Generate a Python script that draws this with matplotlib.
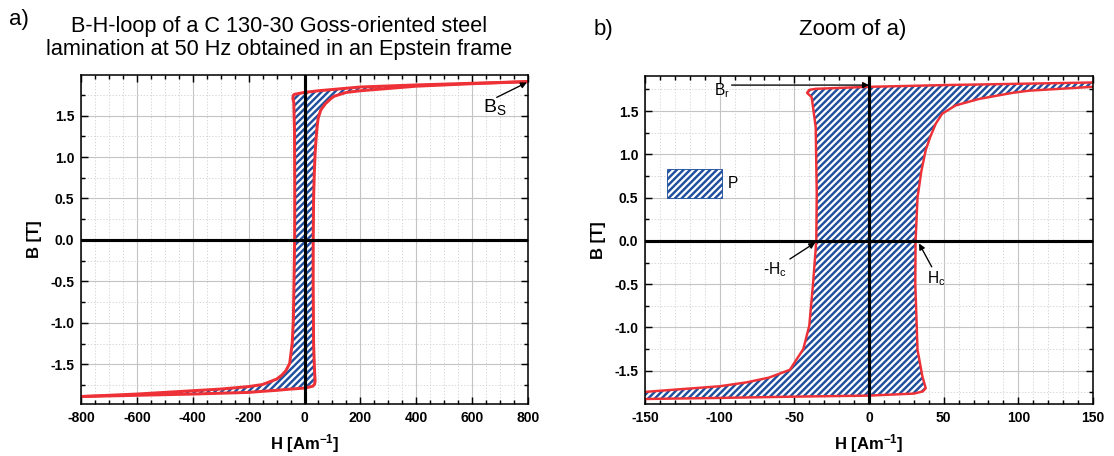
import matplotlib
matplotlib.use("Agg")
import matplotlib.pyplot as plt
from matplotlib.patches import Rectangle
from matplotlib.ticker import MultipleLocator, FormatStrFormatter

# ---------------- data ----------------
# descending branch (H from +800 down to -800)
H_desc = [800, 600, 400, 200, 150, 100, 50, 0, -35.7, -40, -41.5, -38.4, -35.7, -35, -35.3,
          -37.5, -40, -44, -53, -67, -82, -100, -150, -200, -300, -400, -600, -800]
B_desc = [1.91, 1.89, 1.87, 1.845, 1.83, 1.815, 1.80, 1.78, 1.757, 1.745, 1.71, 1.66, 1.315, 0.55, 0.0,
          -0.5, -0.98, -1.25, -1.49, -1.58, -1.635, -1.68, -1.745, -1.77, -1.80, -1.82, -1.86, -1.89]
# ascending branch (H from -800 up to +800)
H_asc = [-800, -600, -400, -200, -150, -100, -50, 0, 30, 36, 38, 35.8, 32.5, 31, 31.2,
         32.5, 35, 38, 41, 44.7, 49, 58, 73.7, 96, 107, 150, 200, 400, 600, 800]
B_asc = [-1.89, -1.875, -1.86, -1.84, -1.827, -1.815, -1.80, -1.788, -1.765, -1.74, -1.703, -1.57, -1.26, -0.49, 0.0,
         0.5, 0.8, 1.05, 1.2, 1.354, 1.47, 1.565, 1.64, 1.71, 1.735, 1.78, 1.80, 1.855, 1.885, 1.91]

left_xticks = [-800, -600, -400, -200, 0, 200, 400, 600, 800]
right_xticks = [-150, -100, -50, 0, 50, 100, 150]
yticks = [-1.5, -1.0, -0.5, 0.0, 0.5, 1.0, 1.5]

title_a = "B-H-loop of a C 130-30 Goss-oriented steel\nlamination at 50 Hz obtained in an Epstein frame"
title_b = "Zoom of a)"
xlabel = r"H [Am$^{\mathregular{-1}}$]"
ylabel = "B [T]"

# ---------------- style ----------------
RED = "#ee3136"
BLUE = "#1f4f9e"
plt.rcParams["font.family"] = ["Liberation Sans", "DejaVu Sans"]
plt.rcParams["mathtext.fontset"] = "custom"
plt.rcParams["mathtext.rm"] = "Liberation Sans"
plt.rcParams["mathtext.bf"] = "Liberation Sans:bold"
plt.rcParams["mathtext.default"] = "regular"
plt.rcParams["axes.unicode_minus"] = False
plt.rcParams["hatch.linewidth"] = 2.2

DPI = 80
fig = plt.figure(figsize=(1114 / DPI, 456 / DPI), dpi=DPI)
axL = fig.add_axes([81 / 1114, 52 / 456, 447 / 1114, 329 / 456])
axR = fig.add_axes([645 / 1114, 52 / 456, 448 / 1114, 328 / 456])

loopH = H_desc + H_asc
loopB = B_desc + B_asc


def style(ax, xticks, xminor, xlim, ylim, lw_loop):
    ax.fill(loopH, loopB, facecolor="white", edgecolor=BLUE, hatch="////", linewidth=0, zorder=1)
    ax.plot(H_desc, B_desc, color=RED, lw=lw_loop, zorder=2, solid_joinstyle="round")
    ax.plot(H_asc, B_asc, color=RED, lw=lw_loop, zorder=2, solid_joinstyle="round")
    ax.axhline(0, color="black", lw=2.8, zorder=3)
    ax.axvline(0, color="black", lw=2.8, zorder=3)
    ax.set_xlim(*xlim)
    ax.set_ylim(*ylim)
    ax.set_xticks(xticks)
    ax.xaxis.set_minor_locator(MultipleLocator(xminor))
    ax.set_yticks(yticks)
    ax.yaxis.set_minor_locator(MultipleLocator(0.25))
    ax.yaxis.set_major_formatter(FormatStrFormatter("%.1f"))
    ax.grid(which="major", color="#c4c4c4", lw=1.0, ls="-", zorder=0)
    ax.grid(which="minor", color="#d4d4d4", lw=0.8, ls=(0, (1.5, 2)), zorder=0)
    ax.set_axisbelow(True)
    ax.tick_params(which="both", direction="in", top=True, right=True, width=1.3, colors="black")
    ax.tick_params(which="major", length=6, pad=6, labelsize=12.5)
    ax.tick_params(which="minor", length=3.5)
    for lab in ax.get_xticklabels() + ax.get_yticklabels():
        lab.set_fontweight("bold")
    for s in ax.spines.values():
        s.set_linewidth(1.4)
        s.set_zorder(4)
    ax.set_xlabel(xlabel, fontsize=15, fontweight="bold")
    ax.set_ylabel(ylabel, fontsize=15, fontweight="bold")
    ax.yaxis.set_label_coords(-0.088, 0.5)
    ax.xaxis.set_label_coords(0.5, -0.085)


style(axL, left_xticks, 50, (-800, 800), (-1.98, 1.99), 2.7)
style(axR, right_xticks, 10, (-150, 150), (-1.885, 1.905), 2.2)

arrow = dict(arrowstyle="-|>", color="black", lw=1.2, mutation_scale=11, shrinkA=0, shrinkB=0)
# left annotation
axL.annotate("", xy=(796, 1.90), xytext=(688, 1.72), arrowprops=arrow, zorder=5)
axL.text(680, 1.60, r"B$_\mathregular{S}$", fontsize=17.5, ha="center", va="center", zorder=5)

# right annotations
axR.annotate("", xy=(0, 1.80), xytext=(-92, 1.80), arrowprops=arrow, zorder=5)
axR.text(-98.5, 1.73, r"B$_\mathregular{r}$", fontsize=14, ha="center", va="center", zorder=5)
axR.annotate("", xy=(-36, -0.02), xytext=(-53, -0.21), arrowprops=arrow, zorder=5)
axR.text(-63, -0.33, r"-H$_\mathregular{c}$", fontsize=14, ha="center", va="center", zorder=5)
axR.annotate("", xy=(33.5, -0.03), xytext=(42, -0.30), arrowprops=arrow, zorder=5)
axR.text(45, -0.44, r"H$_\mathregular{c}$", fontsize=14, ha="center", va="center", zorder=5)
axR.add_patch(Rectangle((-135, 0.5), 36.5, 0.325, facecolor="white", edgecolor=BLUE,
                        hatch="////", lw=0.8, zorder=5))
axR.text(-91, 0.66, "P", fontsize=14, ha="center", va="center", zorder=5)

# titles
fig.text(19 / 1114, 1 - 20 / 456, "a)", fontsize=20, ha="center", va="center")
fig.text(279 / 1114, 1 - 38 / 456, title_a, fontsize=19.5, ha="center", va="center", linespacing=1.1)
fig.text(603 / 1114, 1 - 30 / 456, "b)", fontsize=20, ha="center", va="center")
fig.text(853 / 1114, 1 - 30 / 456, title_b, fontsize=20, ha="center", va="center")

fig.savefig("out.png", dpi=DPI)
